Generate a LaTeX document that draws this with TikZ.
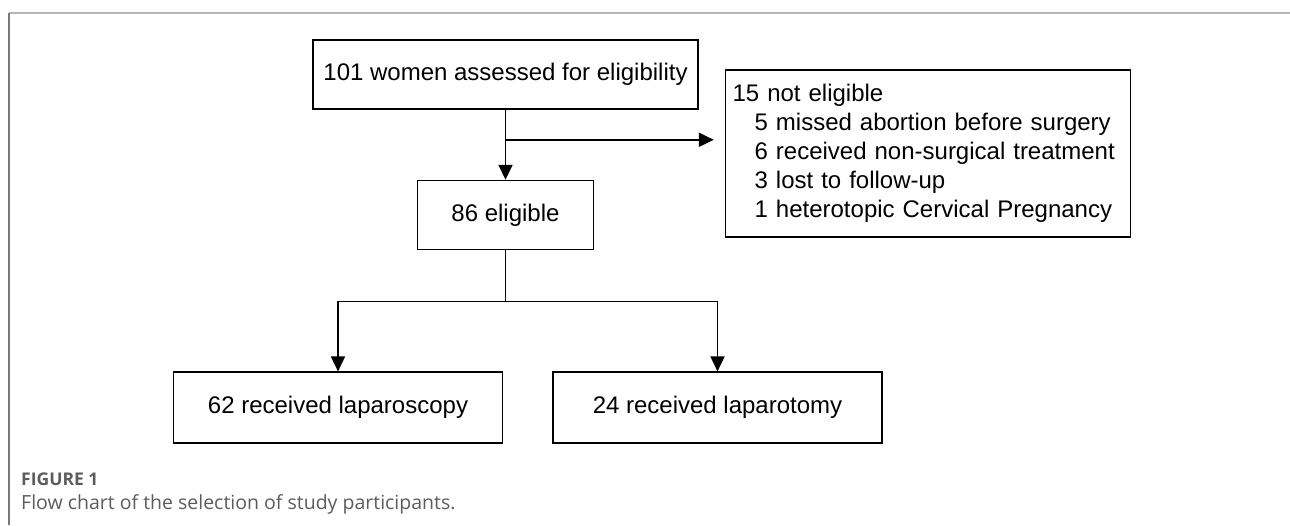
\documentclass[tikz,border=0pt]{standalone}
\usepackage{fontspec}
\setmainfont{Liberation Sans}
\newfontfamily\capfont{Open Sans}
\usepackage{xcolor}
\usetikzlibrary{arrows.meta, positioning}
\definecolor{framegray}{HTML}{B4B4B4}
\definecolor{edgegray}{HTML}{7A7A7A}
\definecolor{capgray}{HTML}{5C5C5C}

\begin{document}
\begin{tikzpicture}[
    x=1pt, y=1pt,
    node distance=70pt and 26pt,
    box/.style={rectangle, draw, line width=1.6pt, inner sep=0pt, font=\fontsize{24}{29}\selectfont, align=center},
    arrow/.style={-{Triangle[width=14pt,length=15pt]}, line width=1.8pt},
    link/.style={line width=1.8pt},
    figlabel/.style={font=\capfont\bfseries\fontsize{17.5}{20}\selectfont, text=capgray, inner sep=0pt, anchor=base west},
    figtext/.style={font=\capfont\fontsize{19.5}{23}\selectfont, text=capgray, inner sep=0pt, anchor=base west}
]
\useasboundingbox (0,0) rectangle (1290,-525);

% Figure frame
\draw[framegray, line width=2pt] (9,-13) -- (1290,-13);
\draw[edgegray, line width=1.3pt] (9,-13) -- (9,-525);

% Screening
\node[box, minimum width=385pt, minimum height=69pt] (assessed) at (505.5,-74.5) {101 women assessed for eligibility};
\node[box, minimum width=176pt, minimum height=69pt, below=70pt of assessed] (eligible) {86 eligible};
\node[box, minimum height=167pt, text width=391pt, inner xsep=7pt, align=left, anchor=north west] (excluded) at ([xshift=26pt, yshift=-30pt]assessed.north east)
    {15 not eligible\\
     \hspace*{22pt}5 missed abortion before surgery\\
     \hspace*{22pt}6 received non-surgical treatment\\
     \hspace*{22pt}3 lost to follow-up\\
     \hspace*{22pt}1 heterotopic Cervical Pregnancy};

% Treatment groups
\node[box, minimum width=329pt, minimum height=71pt, below=121pt of eligible, xshift=-167.5pt] (scopy) {62 received laparoscopy};
\node[box, minimum width=329pt, minimum height=71pt, below=121pt of eligible, xshift=212pt] (tomy) {24 received laparotomy};

% Branch points
\coordinate[below=30pt of assessed.south] (split);
\coordinate[below=51pt of eligible.south] (fork);

% Arrows
\draw[arrow] (assessed) -- (eligible);
\draw[arrow, shorten >=11pt] (split) -- (split -| excluded.west);
\draw[link] (eligible) -- (fork);
\draw[arrow] (fork) -| (scopy.north);
\draw[arrow] (fork) -| (tomy.north);

% Caption
\node[figlabel] (fignum) at (21,-485) {FIGURE 1};
\node[figtext] (figcap) at (21,-509) {Flow chart of the selection of study participants.};

\end{tikzpicture}
\end{document}
